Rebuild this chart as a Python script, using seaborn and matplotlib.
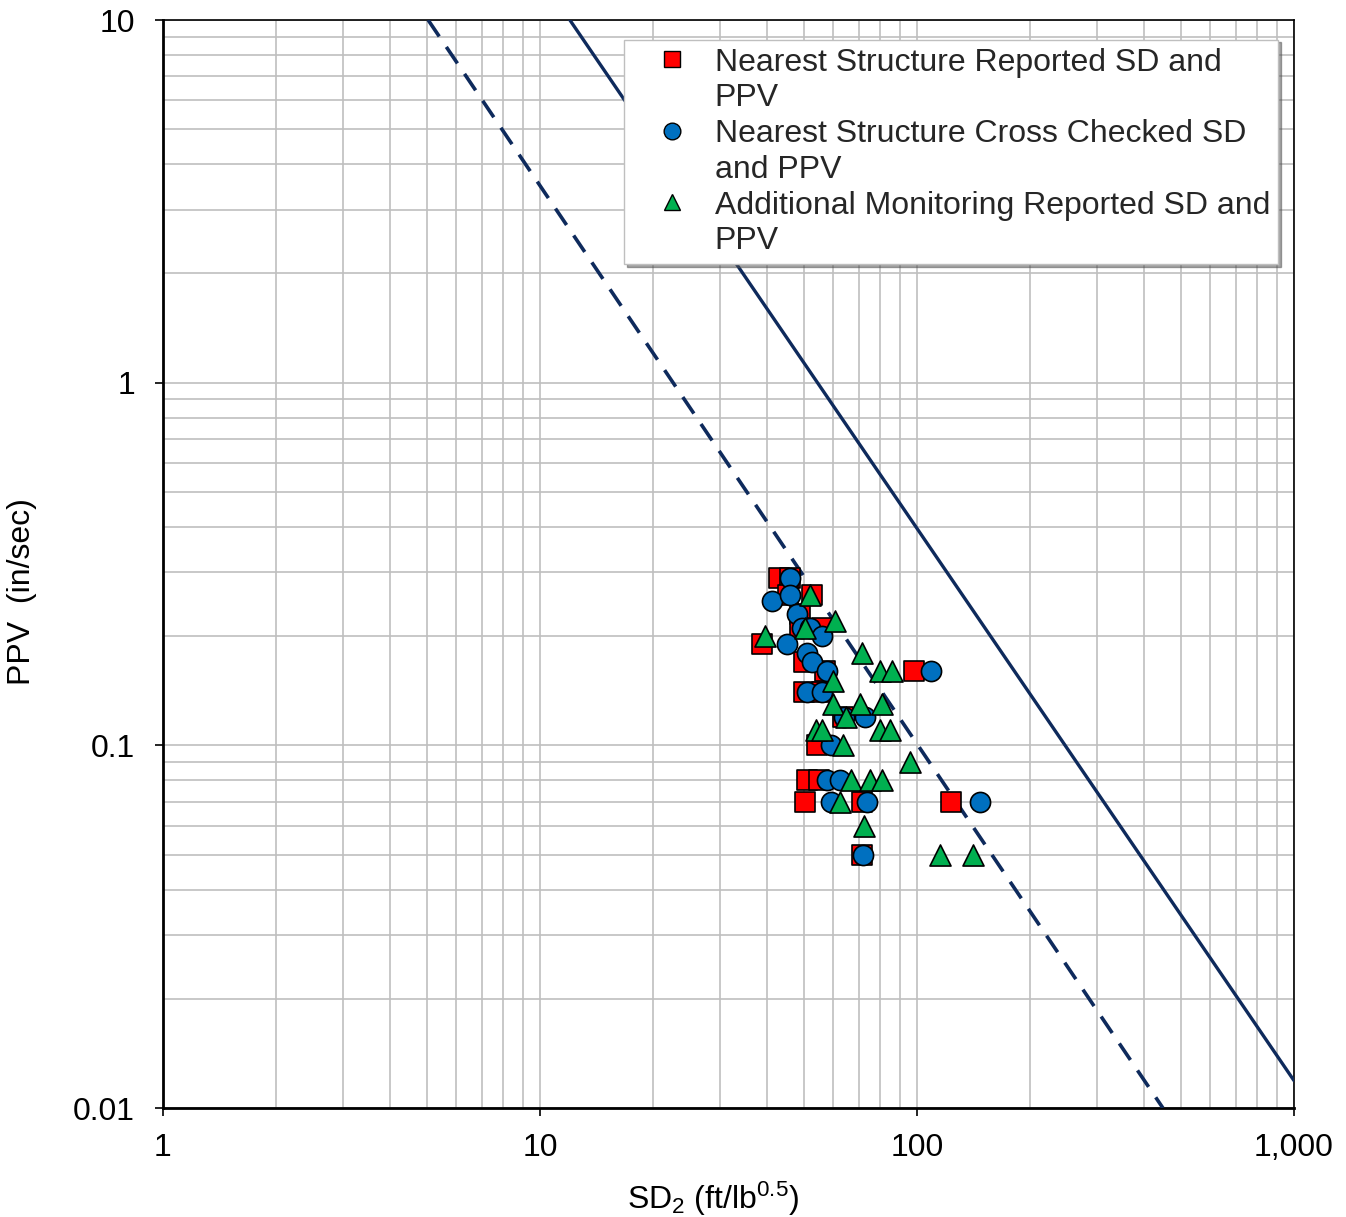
import matplotlib
matplotlib.use("Agg")
import matplotlib.pyplot as plt
import matplotlib.ticker as mticker
from matplotlib.lines import Line2D
import numpy as np
import pandas as pd
import seaborn as sns

# Nearest structure, reported scaled distance (ft/lb^0.5) and PPV (in/sec)
reported_sd = [43, 46, 45.5, 52.7, 49, 49, 56, 38.8, 50, 57, 98, 50, 56,
               63.5, 54.3, 51, 55, 50.5, 71.5, 123, 71.5]
reported_ppv = [0.29, 0.29, 0.26, 0.26, 0.23, 0.21, 0.21, 0.19, 0.17, 0.16, 0.16,
                0.14, 0.14, 0.12, 0.10, 0.08, 0.08, 0.07, 0.07, 0.07, 0.05]

# Nearest structure, cross checked values
checked_sd = [46, 41.2, 46, 48, 49.5, 52, 56, 45.2, 51, 52.5, 57.7, 109, 51, 56,
              64, 73, 59, 57.7, 62.5, 59, 73.7, 147, 72]
checked_ppv = [0.29, 0.25, 0.26, 0.23, 0.21, 0.21, 0.20, 0.19, 0.18, 0.17, 0.16,
               0.16, 0.14, 0.14, 0.12, 0.12, 0.10, 0.08, 0.08, 0.07, 0.07, 0.07, 0.05]

# Additional monitoring points
additional_sd = [52, 60.6, 50.5, 39.5, 71.5, 80, 86, 60, 60, 70.6, 81, 65, 54, 56,
                 80, 85, 63.5, 95.8, 67, 75, 81, 62.5, 72.5, 115, 141]
additional_ppv = [0.26, 0.22, 0.21, 0.20, 0.18, 0.16, 0.16, 0.15, 0.13, 0.13, 0.13,
                  0.12, 0.11, 0.11, 0.11, 0.11, 0.10, 0.09, 0.08, 0.08, 0.08, 0.07,
                  0.06, 0.05, 0.05]

# Limit lines (end points on the log-log axes)
upper_sd = [12.0, 1000.0]
upper_ppv = [10.0, 0.0119]
lower_sd = [5.05, 449.0]
lower_ppv = [10.0, 0.01]

# Each legend entry wraps onto two lines
series_lines = [
    ("Nearest Structure Reported SD and", "PPV"),
    ("Nearest Structure Cross Checked SD", "and PPV"),
    ("Additional Monitoring Reported SD and", "PPV"),
]
colors = ["#FF0000", "#0070C0", "#00B050"]
markers = ["s", "o", "^"]
sizes = [200, 210, 230]

sns.set_theme(style="white")
plt.rcParams["font.family"] = ["Liberation Sans", "DejaVu Sans"]
plt.rcParams["mathtext.default"] = "regular"

fig = plt.figure(figsize=(13.46, 12.17), dpi=100)
ax = fig.add_axes([163 / 1346, 1 - 1108 / 1217, (1294 - 163) / 1346, (1108 - 20) / 1217])
ax.set_xscale("log")
ax.set_yscale("log")
ax.set_xlim(1, 1000)
ax.set_ylim(0.01, 10)

line_color = "#0E2A5C"
upper_df = pd.DataFrame({"sd": upper_sd, "ppv": upper_ppv})
sns.lineplot(data=upper_df, x="sd", y="ppv", ax=ax, color=line_color, lw=2.4,
             zorder=3, estimator=None, sort=False)
lower_df = pd.DataFrame({"sd": lower_sd, "ppv": lower_ppv})
sns.lineplot(data=lower_df, x="sd", y="ppv", ax=ax, color=line_color, lw=2.6,
             zorder=3, estimator=None, sort=False)
ax.lines[-1].set_linestyle((0, (5.5, 3.5)))

data_sets = [(reported_sd, reported_ppv), (checked_sd, checked_ppv),
             (additional_sd, additional_ppv)]
for (xs, ys), c, m, s in zip(data_sets, colors, markers, sizes):
    df = pd.DataFrame({"sd": xs, "ppv": ys})
    sns.scatterplot(data=df, x="sd", y="ppv", ax=ax, color=c, marker=m, s=s,
                    edgecolor="black", linewidth=1.2, zorder=4, legend=False)

# Grid on major and minor decades
ax.xaxis.set_minor_locator(mticker.LogLocator(base=10, subs=np.arange(2, 10)))
ax.yaxis.set_minor_locator(mticker.LogLocator(base=10, subs=np.arange(2, 10)))
ax.grid(which="both", color="#BFBFBF", lw=1.2, zorder=0)
ax.set_axisbelow(True)

ax.xaxis.set_major_locator(mticker.FixedLocator([1, 10, 100, 1000]))
ax.xaxis.set_major_formatter(mticker.FixedFormatter(["1", "10", "100", "1,000"]))
ax.yaxis.set_major_locator(mticker.FixedLocator([0.01, 0.1, 1, 10]))
ax.yaxis.set_major_formatter(mticker.FixedFormatter(["0.01", "0.1", "1", "10"]))
ax.tick_params(which="major", direction="out", length=6, width=1.2, color="black",
               labelsize=23, left=True, bottom=True, labelcolor="black")
ax.tick_params(axis="x", which="major", pad=12)
ax.tick_params(axis="y", which="major", pad=14)
ax.tick_params(which="minor", length=0)

for side in ["left", "bottom"]:
    ax.spines[side].set_color("black")
    ax.spines[side].set_linewidth(2.0)
for side in ["top", "right"]:
    ax.spines[side].set_color("black")
    ax.spines[side].set_linewidth(1.2)

ax.set_xlabel("SD$_2$ (ft/lb$^{0.5}$)", fontsize=23, color="black")
ax.set_ylabel("PPV  (in/sec)", fontsize=23, color="black")
ax.xaxis.set_label_coords(0.486, -0.066)
ax.yaxis.set_label_coords(-0.111, 0.475)

# Legend: marker beside the first line of each entry
handles, labels = [], []
for (first, second), c, m in zip(series_lines, colors, markers):
    handles.append(Line2D([0], [0], marker=m, color="none", markerfacecolor=c,
                          markeredgecolor="black", markeredgewidth=1.0, markersize=12))
    labels.append(first)
    handles.append(Line2D([0], [0], color="none", marker=None))
    labels.append(second)

leg = ax.legend(handles, labels, loc="upper right", bbox_to_anchor=(0.986, 0.982),
                fontsize=23, frameon=True, fancybox=False, shadow=True,
                handletextpad=0.1, labelspacing=0.18, borderpad=0.25,
                handlelength=2.5, borderaxespad=0)
leg.get_frame().set_edgecolor("#BFBFBF")
leg.get_frame().set_linewidth(1.0)
leg.set_zorder(6)

fig.savefig("out.png", dpi=100)
